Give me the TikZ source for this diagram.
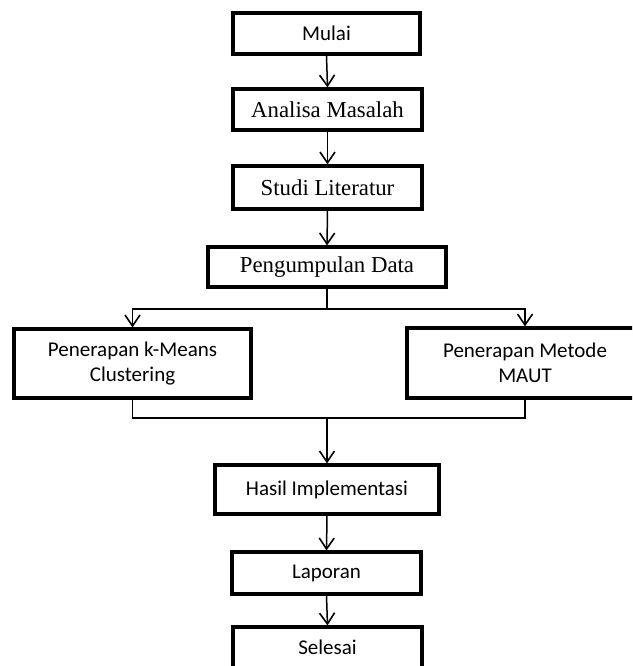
\documentclass[tikz,border=0pt]{standalone}
\usepackage{fontspec}
\newfontfamily\calfont{Carlito}
\newfontfamily\tnrfont{Liberation Serif}
\usetikzlibrary{arrows.meta}
\tikzset{
  stepbox/.style={draw=black, line width=3.2pt, fill=white, rectangle, inner sep=0pt, align=center},
  sansbox/.style={stepbox, font=\calfont\fontsize{21}{25}\selectfont},
  serifbox/.style={stepbox, font=\tnrfont\fontsize{22.8}{26}\selectfont},
  link/.style={draw=black, line width=1.5pt},
  arr/.style={link, -{Straight Barb[length=11pt,width=15pt,line width=1.6pt]}}
}
\begin{document}
\begin{tikzpicture}[x=1pt, y=-1pt]
\useasboundingbox (0,0) rectangle (632,666);
\fill[white] (0,0) rectangle (632,666);
\clip (0,0) rectangle (632,666);
\node[sansbox, minimum width=187pt, minimum height=41pt] (mulai) at (326.5,33.5) {Mulai};
\node[serifbox, minimum width=189pt, minimum height=41pt] (analisa) at (327.5,109.5) {Analisa Masalah};
\node[serifbox, minimum width=189pt, minimum height=43pt] (studi) at (327.5,187.5) {Studi Literatur};
\node[serifbox, minimum width=238pt, minimum height=40pt] (peng) at (327,267) {Pengumpulan Data};
\node[sansbox, minimum width=237pt, minimum height=69pt] (kmeans) at (132.5,363.5) {Penerapan k-Means\\Clustering};
\node[sansbox, minimum width=236pt, minimum height=70pt] (maut) at (525,363) {Penerapan Metode\\MAUT};
\node[sansbox, minimum width=224pt, minimum height=49pt] (hasil) at (327,489.5) {Hasil Implementasi};
\node[sansbox, minimum width=189pt, minimum height=42pt] (lap) at (326.5,573) {Laporan};
\node[sansbox, minimum width=189pt, minimum height=41pt] (selesai) at (327.5,647.5) {Selesai};

\coordinate (split) at (327,309);
\coordinate (merge) at (327,418);

\draw[arr] (mulai.south) -- (analisa.north);
\draw[arr] (analisa.south) -- (studi.north);
\draw[arr] (studi.south) -- (peng.north);
\draw[link] (peng.south) -- (split);
\draw[arr] (split) -| (kmeans.north);
\draw[arr] (split) -| (maut.north);
\draw[link] (kmeans.south) |- (merge);
\draw[link] (maut.south) |- (merge);
\draw[arr] (merge) -- (hasil.north);
\draw[arr] (hasil.south) -- (lap.north);
\draw[arr] (lap.south) -- (selesai.north);
\end{tikzpicture}
\end{document}
